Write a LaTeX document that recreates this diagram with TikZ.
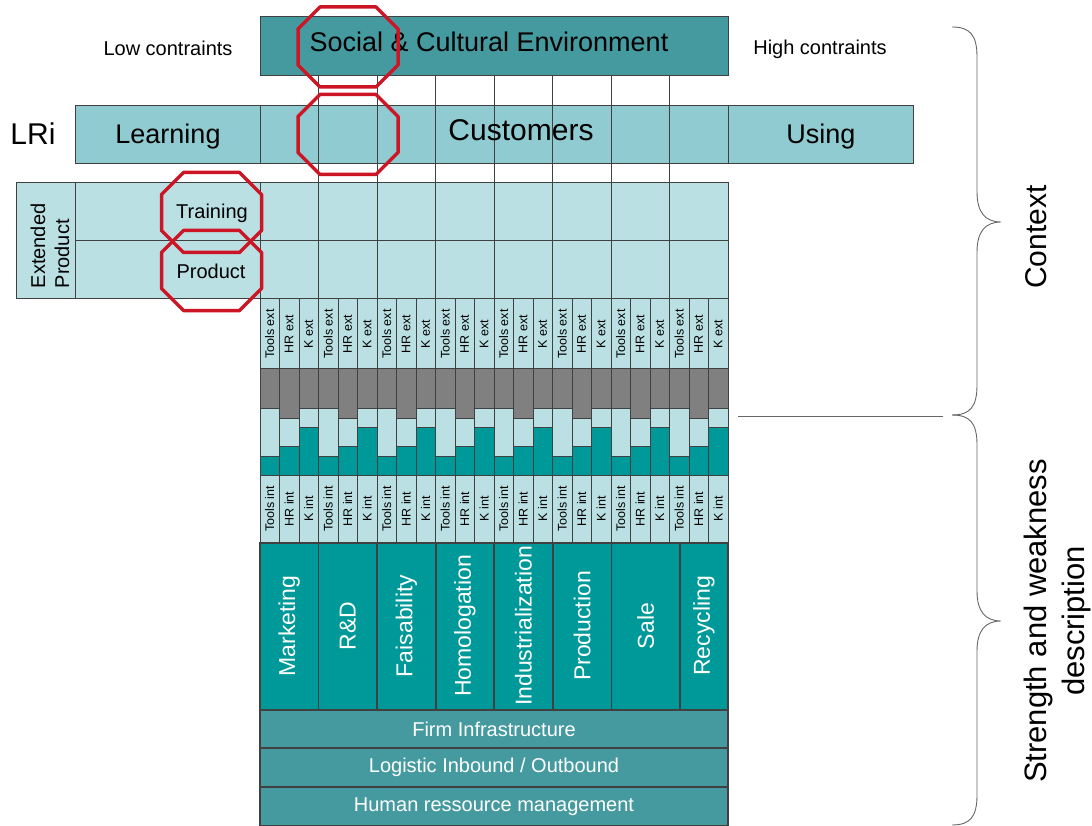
\documentclass[tikz,border=0pt]{standalone}
\usepackage{fontspec}
\setmainfont{Liberation Sans}
\usetikzlibrary{positioning}

\definecolor{envteal}{RGB}{69,154,160}
\definecolor{custteal}{RGB}{143,203,208}
\definecolor{paleteal}{RGB}{187,224,227}
\definecolor{proteal}{RGB}{0,153,153}
\definecolor{bargray}{RGB}{128,128,128}
\definecolor{stopred}{RGB}{204,22,38}

% red octagon round a cell: centre x, centre y
\newcommand\octo[2]{%
  \draw[redmark] (#1-28,#2-40) -- (#1+28,#2-40) -- (#1+50,#2-18) -- (#1+50,#2+18)
    -- (#1+28,#2+40) -- (#1-28,#2+40) -- (#1-50,#2+18) -- (#1-50,#2-18) -- cycle;}
% curly brace on the right: top, tip, bottom
\newcommand\sidebrace[3]{%
  \draw[thinline] (952,#1) .. controls (970,#1) and (977,#1+8) .. (977,#1+30)
    -- (977,#2-30) .. controls (977,#2-10) and (985,#2) .. (1001,#2)
    .. controls (985,#2) and (977,#2+10) .. (977,#2+30)
    -- (977,#3-30) .. controls (977,#3-8) and (970,#3) .. (952,#3);}

\begin{document}
\begin{tikzpicture}[x=1pt,y=-1pt,
    box/.style={draw=black!75,line width=1pt},
    thinline/.style={draw=black!60,line width=0.9pt},
    redmark/.style={draw=stopred,line width=3.5pt,line join=round},
    small/.style={font=\fontsize{12.5}{15}\selectfont,rotate=90},
    mid/.style={font=\fontsize{20}{24}\selectfont},
    big/.style={font=\fontsize{27}{32}\selectfont},
    huge/.style={font=\fontsize{30}{36}\selectfont},
    stage/.style={font=\fontsize{23}{27}\selectfont,text=white,rotate=90}]
  \useasboundingbox (0,0) rectangle (1092,826);

  % top band
  \node[mid] (low) at (168,48) {Low contraints};
  \node[mid] (high) at (820,49) {High contraints};
  \filldraw[box,fill=envteal] (260,17) rectangle (728,76);
  \node[big] (env) at (489,42) {Social \& Cultural Environment};

  % dividers between the bands
  \foreach \i in {1,...,7}
    \draw[box] (260+58.5*\i,76) -- (260+58.5*\i,183);

  % customers band
  \filldraw[box,fill=custteal] (75,106) rectangle (260,164);
  \filldraw[box,fill=custteal] (728,106) rectangle (913,164);
  \foreach \i in {0,...,7}
    \filldraw[box,fill=custteal] (260+58.5*\i,106) rectangle +(58.5,58);
  \node[huge] (lri) at (33,134) {LRi};
  \node[big] (learn) at (168,137) {Learning};
  \node[huge] (cust) at (521,130) {Customers};
  \node[big] (use) at (821,137) {Using};

  % extended product
  \filldraw[box,fill=paleteal] (16,183) rectangle (75,299);
  \filldraw[box,fill=paleteal] (75,183) rectangle (260,241);
  \filldraw[box,fill=paleteal] (75,241) rectangle (260,299);
  \foreach \i in {0,...,7}{
    \filldraw[box,fill=paleteal] (260+58.5*\i,183) rectangle +(58.5,58);
    \filldraw[box,fill=paleteal] (260+58.5*\i,241) rectangle +(58.5,58);}
  \node[mid,rotate=90,align=left] (extprod) at (50,246) {Extended\\Product};
  \node[mid] (train) at (212,213) {Training};
  \node[mid] (prod) at (211,271) {Product};

  % ext / int resources of each stage
  \foreach \i in {0,...,7}
    \foreach \k/\res/\g/\t in {0/Tools/408/456,1/HR/418/446,2/K/408/427}{
      \pgfmathsetmacro\xl{260+58.5*\i+19.5*\k}
      \filldraw[box,fill=paleteal] (\xl,299) rectangle +(19.5,69);
      \node[small] (ext-\i-\k) at (\xl+9.75,334) {\res\ ext};
      \filldraw[box,fill=bargray] (\xl,368) rectangle (\xl+19.5,\g);
      \filldraw[box,fill=paleteal] (\xl,\g) rectangle (\xl+19.5,\t);
      \filldraw[box,fill=proteal] (\xl,\t) rectangle (\xl+19.5,475);
      \filldraw[box,fill=paleteal] (\xl,475) rectangle +(19.5,68);
      \node[small] (int-\i-\k) at (\xl+9.75,509) {\res\ int};
    }

  % stages
  \foreach \xa/\xb/\stg [count=\n] in {260/318.5/Marketing,318.5/377/R\&D,
      377/436/Faisability,436/494/Homologation,494/553/Industrialization,
      553/611.5/Production,611.5/680/Sale,680/728/Recycling}{
    \filldraw[box,line width=1.5pt,fill=proteal] (\xa,543) rectangle (\xb,710);
    \node[stage] (st\n) at ({(\xa+\xb)/2},626) {\stg};
  }

  % support activities
  \foreach \ya/\yb/\txt [count=\n] in {710/748/Firm Infrastructure,
      748/787/{Logistic Inbound / Outbound},787/825.5/Human ressource management}{
    \filldraw[box,line width=1.5pt,fill=envteal] (260,\ya) rectangle (728,\yb);
    \node[mid,text=white] (sup\n) at (494,{(\ya+\yb)/2}) {\txt};
  }

  % red marks
  \octo{348}{47}
  \octo{348}{134.5}
  \octo{211.5}{212.5}
  \octo{211.5}{270.5}

  % braces
  \draw[thinline] (738,416) -- (943,416);
  \sidebrace{27}{222}{415}
  \sidebrace{415}{621}{825}
  \node[huge,rotate=90] (ctx) at (1036,237) {Context};
  \node[font=\fontsize{31}{38}\selectfont,rotate=90,align=center] (sw) at (1057,621)
    {Strength and weakness\\description};
\end{tikzpicture}
\end{document}
